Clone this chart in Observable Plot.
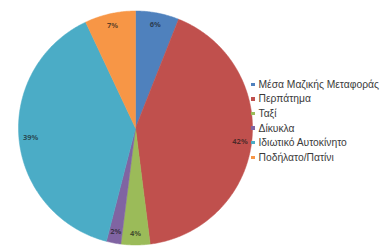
<!DOCTYPE html>
<html><head><meta charset="utf-8">
<script src="https://cdn.jsdelivr.net/npm/d3@7"></script>
<script src="https://cdn.jsdelivr.net/npm/@observablehq/plot@0.6"></script>
<style>
body{margin:0;background:#fff;}
#wrap{position:relative;width:385px;height:246px;font-family:"Liberation Sans",Arial,sans-serif;}
#legend{position:absolute;left:251px;top:77px;}
.item{display:flex;align-items:center;height:14.6px;font-size:10.3px;color:#3a3a3a;white-space:nowrap;}
.sw{width:3.5px;height:3.5px;margin-right:4px;}
</style></head>
<body><div id="wrap"><div id="legend"></div></div>
<script>
const categories = ["Μέσα Μαζικής Μεταφοράς","Περπάτημα","Ταξί","Δίκυκλα","Ιδιωτικό Αυτοκίνητο","Ποδήλατο/Πατίνι"];
const shares = [6,42,4,2,39,7];
const labels = ["6%","42%","4%","2%","39%","7%"];
const colors = ["#4F81BD","#C0504D","#9BBB59","#8064A2","#4BACC6","#F79646"];

const arcs = d3.pie().sort(null).value(d=>d)(shares);
const pts = [];
arcs.forEach((a,i)=>{
  const cat = categories[i];
  pts.push({x:0,y:0,cat});
  const n = Math.max(4, Math.ceil((a.endAngle-a.startAngle)/0.01));
  for(let k=0;k<=n;k++){
    const t = a.startAngle + (a.endAngle-a.startAngle)*k/n;
    pts.push({x:Math.sin(t),y:Math.cos(t),cat});
  }
  pts.push({x:0,y:0,cat});
});
const labelData = arcs.map((a,i)=>{
  const m=(a.startAngle+a.endAngle)/2;
  return {x:0.9*Math.sin(m), y:0.9*Math.cos(m), label:labels[i], cat:categories[i]};
});

const chart = Plot.plot({
  width:385, height:246,
  marginLeft:18, marginRight:133, marginTop:10.5, marginBottom:1.5,
  x:{domain:[-1,1], axis:null},
  y:{domain:[-1,1], axis:null},
  color:{domain:categories, range:colors},
  style:{background:"#fff"},
  marks:[
    Plot.line(pts,{x:"x",y:"y",z:"cat",fill:"cat",stroke:"cat",strokeWidth:0.5,curve:"linear"}),
    Plot.text(labelData,{x:"x",y:"y",text:"label",fill:"#1a1a1a",fillOpacity:0.7,fontSize:7.5,fontWeight:"bold"})
  ]
});
const wrap = document.getElementById("wrap");
wrap.insertBefore(chart, wrap.firstChild);
const lg = document.getElementById("legend");
categories.forEach((c,i)=>{
  const it=document.createElement("div");it.className="item";
  const sw=document.createElement("span");sw.className="sw";sw.style.background=colors[i];
  const tx=document.createElement("span");tx.textContent=c;
  it.appendChild(sw);it.appendChild(tx);lg.appendChild(it);
});
</script></body></html>
